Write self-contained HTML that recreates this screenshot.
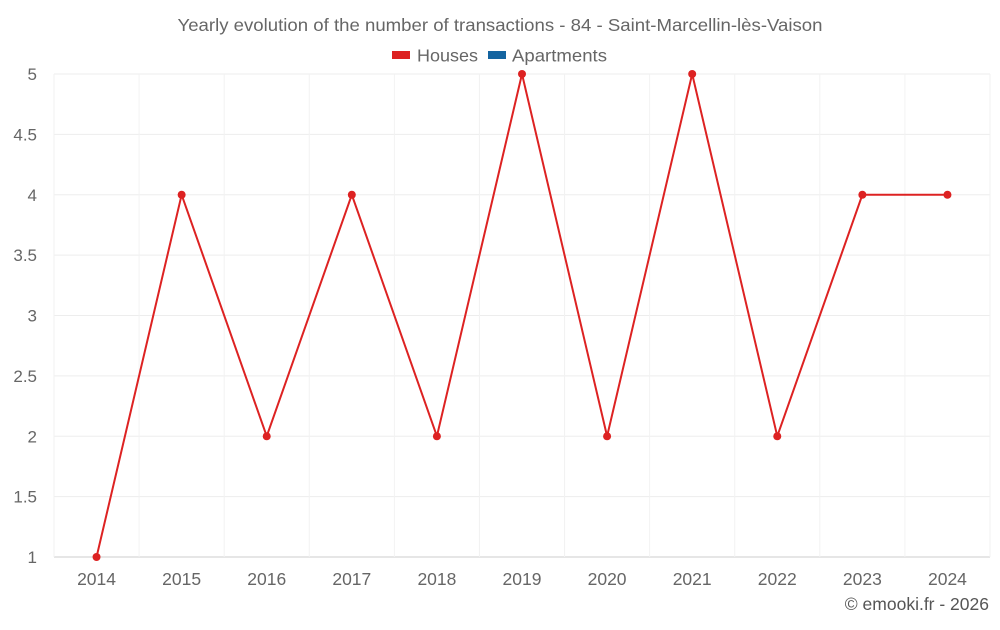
<!DOCTYPE html>
<html><head><meta charset="utf-8"><style>
body{margin:0;background:#fff;}
svg text{font-family:"Liberation Sans",sans-serif;}
</style></head><body>
<svg id="chart" width="1000" height="625">
<text x="500" y="31" text-anchor="middle" font-size="17.5" fill="#666" textLength="645" lengthAdjust="spacingAndGlyphs">Yearly evolution of the number of transactions - 84 - Saint-Marcellin-lès-Vaison</text>
<g>
<g><rect x="392" y="51" width="18" height="8" fill="#dd2222"/><text x="417" y="61.5" font-size="17.5" fill="#666" textLength="61" lengthAdjust="spacingAndGlyphs">Houses</text></g>
<g><rect x="488" y="51" width="18" height="8" fill="#1464a0"/><text x="512" y="61.5" font-size="17.5" fill="#666" textLength="95" lengthAdjust="spacingAndGlyphs">Apartments</text></g>
</g>
<g id="grid"></g>
<g id="axes"></g>
<g id="series"></g>
<text x="989" y="610" text-anchor="end" font-size="17.5" fill="#555">© emooki.fr - 2026</text>
</svg>
<script>
const years=["2014","2015","2016","2017","2018","2019","2020","2021","2022","2023","2024"];
const houses=[1,4,2,4,2,5,2,5,2,4,4];
const yTicks=[1,1.5,2,2.5,3,3.5,4,4.5,5];
const yTickLabels=["1","1.5","2","2.5","3","3.5","4","4.5","5"];
const L=54,R=990,T=74,B=557,yMin=1,yMax=5;
const bw=(R-L)/years.length;
const x=i=>L+bw*(i+0.5);
const y=v=>B-(v-yMin)/(yMax-yMin)*(B-T);
const NS="http://www.w3.org/2000/svg";
function mk(tag,attrs,parent){const e=document.createElementNS(NS,tag);for(const k in attrs)e.setAttribute(k,attrs[k]);parent.appendChild(e);return e;}
const grid=document.getElementById('grid'),axes=document.getElementById('axes'),series=document.getElementById('series');
yTicks.forEach((t,i)=>{
 const l=mk('line',{x1:L,x2:R,y1:y(t),y2:y(t),stroke:i==0?'#ccc':'#ededed','stroke-width':1},grid);
 
 
 const tx=mk('text',{x:37,y:y(t)+6,'text-anchor':'end','font-size':17,fill:'#666'},axes);
 tx.textContent=yTickLabels[i];
 
 
});
for(let i=0;i<=years.length;i++){
 const l=mk('line',{x1:L+bw*i,x2:L+bw*i,y1:T,y2:B,stroke:'#f2f2f2','stroke-width':1},grid);
 
 
}
years.forEach((yr,i)=>{
 const tx=mk('text',{x:x(i),y:585,'text-anchor':'middle','font-size':17.5,fill:'#666'},axes);
 tx.textContent=yr;
 
 
});
const p=mk('polyline',{points:houses.map((v,i)=>x(i)+','+y(v)).join(' '),fill:'none',stroke:'#dd2222','stroke-width':2},series);


houses.forEach((v,i)=>{
 const c=mk('circle',{cx:x(i),cy:y(v),r:4,fill:'#dd2222'},series);
 
 
});
</script>
</body></html>
